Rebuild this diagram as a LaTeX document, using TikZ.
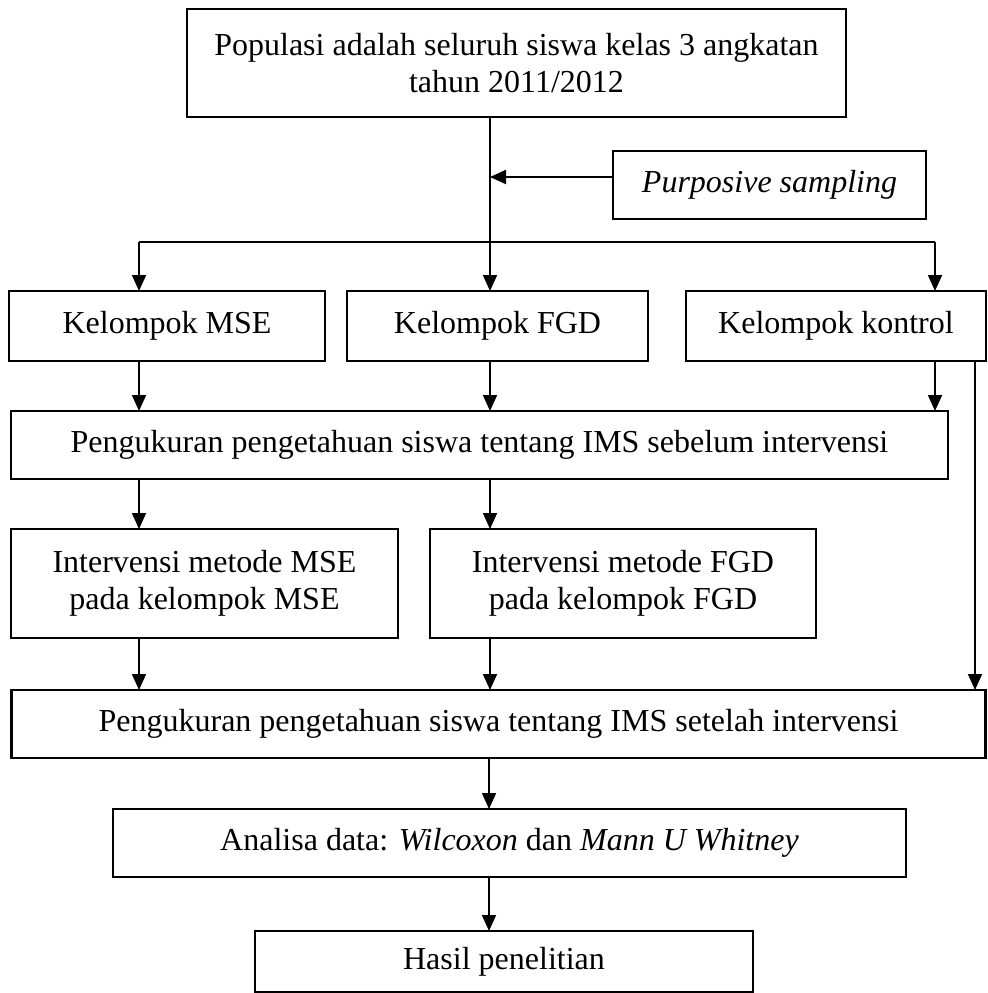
\documentclass[tikz,border=0pt]{standalone}
\usepackage{fontspec}
\setmainfont{Liberation Serif}
\usetikzlibrary{arrows.meta}
\tikzset{
  box/.style={draw, line width=1.3pt, inner sep=0pt, outer sep=0pt, align=center,
              font=\fontsize{16}{18.5}\selectfont},
  conn/.style={line width=0.9pt},
  arr/.style={line width=0.9pt, -{Triangle[length=8pt,width=7pt]}}
}
\begin{document}
\begin{tikzpicture}[x=0.5pt,y=-0.5pt]
\useasboundingbox (0,0) rectangle (988,993);
% boxes
\node[box, minimum width=329.5pt, minimum height=54pt] (top) at (516.5,63)
  {Populasi adalah seluruh siswa kelas 3 angkatan\\tahun 2011/2012};
\node[box, minimum width=156.5pt, minimum height=34pt] (purp) at (769.5,185)
  {\itshape Purposive sampling};
\node[box, minimum width=158pt, minimum height=35pt] (mse) at (167,326) {Kelompok MSE};
\node[box, minimum width=150.5pt, minimum height=35pt] (fgd) at (497.5,326) {Kelompok FGD};
\node[box, minimum width=150pt, minimum height=35pt] (kon) at (836,326) {Kelompok kontrol};
\node[box, minimum width=468.5pt, minimum height=34pt] (seb) at (479.5,445)
  {Pengukuran pengetahuan siswa tentang IMS sebelum intervensi};
\node[box, minimum width=193.5pt, minimum height=54.5pt] (imse) at (204.5,583.5)
  {Intervensi metode MSE\\pada kelompok MSE};
\node[box, minimum width=193pt, minimum height=54.5pt] (ifgd) at (623,583.5)
  {Intervensi metode FGD\\pada kelompok FGD};
\node[box, minimum width=487pt, minimum height=34pt] (set) at (498.5,724)
  {Pengukuran pengetahuan siswa tentang IMS setelah intervensi};
\node[box, minimum width=396.5pt, minimum height=34pt] (ana) at (509.5,843)
  {Analisa data: \textit{Wilcoxon} dan \textit{Mann U Whitney}};
\node[box, minimum width=249pt, minimum height=30.5pt] (has) at (504,961.5)
  {Hasil penelitian};
% junction coordinates
\coordinate (pa) at (490,177);
\coordinate (j) at (490,242);
\coordinate (jl) at (139,242);
\coordinate (jr) at (935,242);
\coordinate (cr) at (975,0);
\coordinate (cm) at (489,0);
% connectors
\draw[conn] (top.south -| j) -- (j);
\draw[arr] (purp.west |- pa) -- (pa);
\draw[conn] (jl) -- (jr);
\draw[arr] (jl) -- (mse.north -| jl);
\draw[arr] (j) -- (fgd.north -| j);
\draw[arr] (jr) -- (kon.north -| jr);
\draw[arr] (mse.south -| jl) -- (seb.north -| jl);
\draw[arr] (fgd.south -| j) -- (seb.north -| j);
\draw[arr] (kon.south -| jr) -- (seb.north -| jr);
\draw[arr] (kon.south -| cr) -- (set.north -| cr);
\draw[arr] (seb.south -| jl) -- (imse.north -| jl);
\draw[arr] (seb.south -| j) -- (ifgd.north -| j);
\draw[arr] (imse.south -| jl) -- (set.north -| jl);
\draw[arr] (ifgd.south -| j) -- (set.north -| j);
\draw[arr] (set.south -| cm) -- (ana.north -| cm);
\draw[arr] (ana.south -| cm) -- (has.north -| cm);
\end{tikzpicture}
\end{document}
